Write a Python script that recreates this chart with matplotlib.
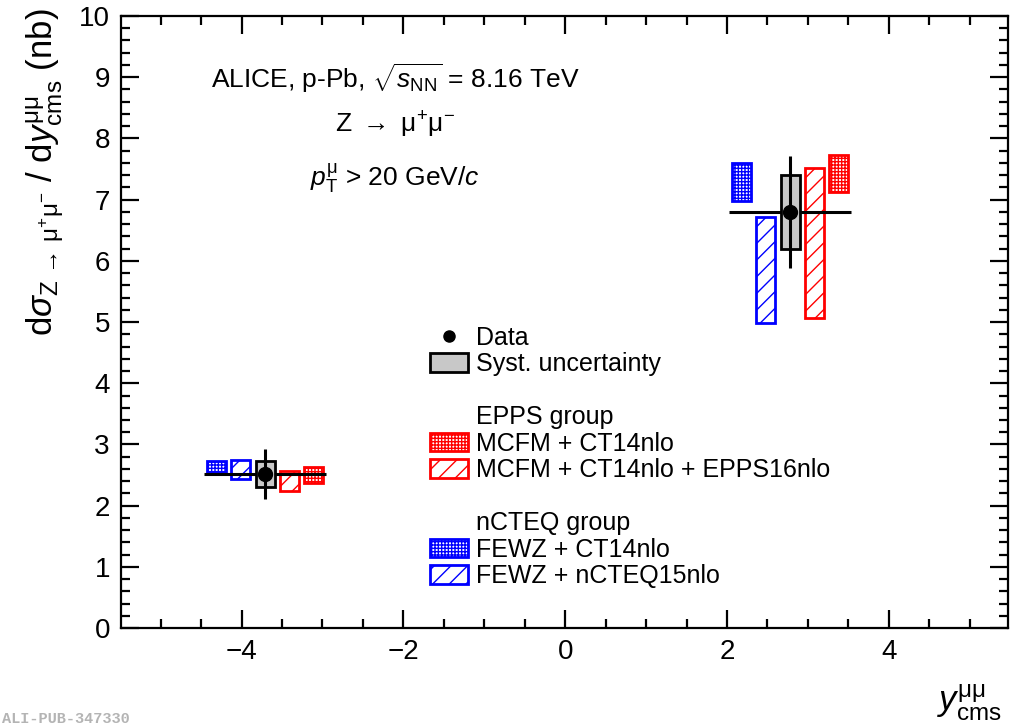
import numpy as np
import matplotlib
matplotlib.use("Agg")
import matplotlib.pyplot as plt
from matplotlib.patches import Rectangle, Patch
from matplotlib.lines import Line2D
from matplotlib.ticker import MultipleLocator

plt.rcParams['font.family'] = ['Liberation Sans', 'DejaVu Sans']
plt.rcParams['mathtext.fontset'] = 'custom'
plt.rcParams['mathtext.rm'] = 'Liberation Sans'
plt.rcParams['mathtext.it'] = 'Liberation Sans:italic'
plt.rcParams['mathtext.bf'] = 'Liberation Sans:bold'
plt.rcParams['hatch.linewidth'] = 1.0

# rapidity bins (backward, forward)
bin_lo = np.array([-4.46, 2.03])
bin_hi = np.array([-2.96, 3.53])
y_center = np.array([-3.71, 2.78])

# measured cross section (nb)
data_val = np.array([2.52, 6.80])
data_stat = np.array([0.41, 0.91])
data_syst = np.array([0.21, 0.61])

# model predictions: lower and upper edge of the uncertainty band
fewz_ct14_lo = np.array([2.55, 6.98])
fewz_ct14_hi = np.array([2.73, 7.60])
fewz_ncteq_lo = np.array([2.43, 4.98])
fewz_ncteq_hi = np.array([2.75, 6.72])
mcfm_epps_lo = np.array([2.24, 5.07])
mcfm_epps_hi = np.array([2.57, 7.52])
mcfm_ct14_lo = np.array([2.37, 7.12])
mcfm_ct14_hi = np.array([2.63, 7.73])

BLUE = '#0000ff'
RED = '#ff0000'
GREY = '#c8c8c8'
BOX_W = 0.235  # box width in rapidity units
FS = 18

fig = plt.figure(figsize=(10.1, 7.27), dpi=100)
ax = fig.add_axes([0.1198, 0.136, 0.878, 0.842])


def draw_boxes(offset, lo, hi, color, hatch):
    for x0, l, h in zip(y_center + offset, lo, hi):
        ax.add_patch(Rectangle((x0 - BOX_W / 2, l), BOX_W, h - l, facecolor='none',
                               edgecolor=color, hatch=hatch, lw=2.0, zorder=3))


draw_boxes(-0.6, fewz_ct14_lo, fewz_ct14_hi, BLUE, '+++++')
draw_boxes(-0.3, fewz_ncteq_lo, fewz_ncteq_hi, BLUE, '//')
draw_boxes(0.3, mcfm_epps_lo, mcfm_epps_hi, RED, '//')
draw_boxes(0.6, mcfm_ct14_lo, mcfm_ct14_hi, RED, '+++++')

# data: bin width line, syst box, stat bar, point
ax.hlines(data_val, bin_lo, bin_hi, color='black', lw=2.2, zorder=4)
for x0, v, s in zip(y_center, data_val, data_syst):
    ax.add_patch(Rectangle((x0 - BOX_W / 2, v - s), BOX_W, 2 * s, facecolor=GREY,
                           edgecolor='black', lw=2.0, zorder=5))
ax.errorbar(y_center, data_val, yerr=data_stat, fmt='o', color='black', ms=10,
            elinewidth=2.2, capsize=0, zorder=6)

ax.set_xlim(-5.49, 5.47)
ax.set_ylim(0, 10)
ax.xaxis.set_major_locator(MultipleLocator(2))
ax.xaxis.set_minor_locator(MultipleLocator(0.5))
ax.yaxis.set_major_locator(MultipleLocator(1))
ax.yaxis.set_minor_locator(MultipleLocator(0.2))
ax.tick_params(which='both', direction='in', top=True, right=True, width=1.6,
               labelsize=20)
ax.tick_params(which='major', length=13, pad=8)
ax.tick_params(which='minor', length=6.5)
ax.set_xticks([-4, -2, 0, 2, 4])
ax.set_xticklabels(['\u22124', '\u22122', '0', '2', '4'])
for sp in ax.spines.values():
    sp.set_linewidth(1.6)

# axis titles, ROOT style (top / right aligned)
fig.text(0.045, 0.988,
         r'd$\sigma_{\mathrm{Z}\,\rightarrow\,\mathrm{\mu^{+}\mu^{-}}}$ / d$y^{\mathrm{\mu\mu}}_{\mathrm{cms}}$ (nb)',
         fontsize=25, rotation=90, ha='center', va='top')
fig.text(0.992, 0.022, r'$y^{\mathrm{\mu\mu}}_{\mathrm{cms}}$', fontsize=25, ha='right')

ax.text(0.309, 0.899, r'ALICE, p-Pb, $\sqrt{s_{\mathrm{NN}}}$ = 8.16 TeV', transform=ax.transAxes,
        ha='center', va='center', fontsize=19)
ax.text(0.309, 0.822, r'Z $\rightarrow$ $\mathrm{\mu^{+}\mu^{-}}$', transform=ax.transAxes,
        ha='center', va='center', fontsize=19)
ax.text(0.309, 0.735, r'$p^{\mathrm{\mu}}_{\mathrm{T}}$ > 20 GeV/$c$', transform=ax.transAxes,
        ha='center', va='center', fontsize=19)

blank = Patch(facecolor='none', edgecolor='none')
handles = [
    Line2D([], [], marker='o', color='black', ls='none', ms=8),
    Patch(facecolor=GREY, edgecolor='black', lw=2.0),
    blank, blank,
    Patch(facecolor='none', edgecolor=RED, hatch='+++++', lw=2.0),
    Patch(facecolor='none', edgecolor=RED, hatch='//', lw=2.0),
    blank, blank,
    Patch(facecolor='none', edgecolor=BLUE, hatch='+++++', lw=2.0),
    Patch(facecolor='none', edgecolor=BLUE, hatch='//', lw=2.0),
]
labels = ['Data', 'Syst. uncertainty', ' ', 'EPPS group', 'MCFM + CT14nlo',
          'MCFM + CT14nlo + EPPS16nlo', ' ', 'nCTEQ group', 'FEWZ + CT14nlo',
          'FEWZ + nCTEQ15nlo']
ax.legend(handles, labels, loc='upper left', bbox_to_anchor=(0.349, 0.494),
          frameon=False, fontsize=FS, handlelength=1.52, handleheight=0.76,
          handletextpad=0.3, labelspacing=0.1, borderpad=0, borderaxespad=0)

fig.text(0.002, 0.002, 'ALI-PUB-347330', fontsize=11, color='#b4b4b4',
         family='Liberation Mono', weight='bold', va='bottom')

fig.savefig('out.png', dpi=100)
